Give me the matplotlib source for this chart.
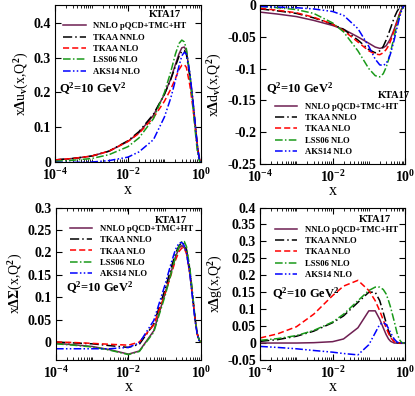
import matplotlib
matplotlib.use('Agg')
import matplotlib.pyplot as plt
import numpy as np

plt.rcParams['font.family'] = ['Liberation Serif', 'DejaVu Serif']
plt.rcParams['font.weight'] = 'bold'
plt.rcParams['mathtext.fontset'] = 'custom'
plt.rcParams['mathtext.rm'] = 'Liberation Serif:bold'
plt.rcParams['mathtext.it'] = 'Liberation Serif:bold'
plt.rcParams['mathtext.bf'] = 'Liberation Serif:bold'

# common x grid
x = [1e-4, 3e-4, 1e-3, 3e-3, 1e-2, 2e-2, 5e-2, 0.1, 0.15, 0.2, 0.25, 0.3,
     0.35, 0.4, 0.5, 0.6, 0.7, 0.8, 0.9, 1.0]

labels = ['NNLO pQCD+TMC+HT', 'TKAA NNLO', 'TKAA NLO', 'LSS06 NLO', 'AKS14 NLO']

# x delta u_v
uv_kta17 = [0.007, 0.011, 0.018, 0.032, 0.060, 0.085, 0.135, 0.195, 0.24, 0.28, 0.31, 0.328,
            0.33, 0.32, 0.25, 0.18, 0.11, 0.05, 0.012, 0.0]
uv_tkaa_nnlo = [0.007, 0.011, 0.018, 0.032, 0.062, 0.088, 0.138, 0.195, 0.238, 0.275, 0.303, 0.318,
                0.32, 0.31, 0.245, 0.175, 0.105, 0.047, 0.011, 0.0]
uv_tkaa_nlo = [0.007, 0.011, 0.018, 0.032, 0.060, 0.083, 0.128, 0.175, 0.21, 0.24, 0.265, 0.278,
               0.28, 0.272, 0.22, 0.16, 0.1, 0.043, 0.01, 0.0]
uv_lss06 = [0.003, 0.006, 0.011, 0.022, 0.045, 0.07, 0.125, 0.2, 0.26, 0.31, 0.34, 0.35,
            0.345, 0.325, 0.25, 0.165, 0.09, 0.032, 0.006, 0.0]
uv_aks14 = [0.0, 0.0, 0.001, 0.005, 0.015, 0.03, 0.065, 0.13, 0.185, 0.235, 0.275, 0.305,
            0.315, 0.31, 0.255, 0.18, 0.11, 0.047, 0.011, 0.0]

# x delta d_v
dv_kta17 = [-0.011, -0.014, -0.018, -0.024, -0.032, -0.038, -0.05, -0.06, -0.066, -0.068, -0.067,
            -0.064, -0.058, -0.052, -0.038, -0.025, -0.014, -0.006, -0.001, 0.0]
dv_tkaa_nnlo = [-0.006, -0.009, -0.013, -0.02, -0.03, -0.038, -0.055, -0.07, -0.075, -0.072, -0.065,
                -0.055, -0.045, -0.036, -0.02, -0.01, -0.004, -0.001, 0.0, 0.0]
dv_tkaa_nlo = [-0.005, -0.008, -0.012, -0.019, -0.03, -0.04, -0.058, -0.072, -0.077, -0.078, -0.075,
               -0.07, -0.064, -0.056, -0.04, -0.027, -0.015, -0.007, -0.002, 0.0]
dv_lss06 = [-0.002, -0.004, -0.007, -0.013, -0.028, -0.042, -0.072, -0.1, -0.111, -0.113, -0.108,
            -0.098, -0.086, -0.073, -0.05, -0.03, -0.016, -0.007, -0.002, 0.0]
dv_aks14 = [-0.002, -0.003, -0.004, -0.006, -0.01, -0.016, -0.037, -0.065, -0.085, -0.094, -0.095,
            -0.092, -0.085, -0.076, -0.055, -0.036, -0.02, -0.009, -0.002, 0.0]

# x delta Sigma
sg_kta17 = [-0.003, -0.006, -0.01, -0.017, -0.027, -0.02, 0.025, 0.105, 0.155, 0.19, 0.21, 0.215,
            0.21, 0.2, 0.15, 0.095, 0.048, 0.017, 0.004, 0.0]
sg_tkaa_nnlo = [0.0, -0.002, -0.004, -0.008, -0.012, -0.005, 0.04, 0.115, 0.165, 0.198, 0.215, 0.222,
                0.218, 0.207, 0.16, 0.1, 0.05, 0.018, 0.004, 0.0]
sg_tkaa_nlo = [0.0, -0.001, -0.003, -0.005, -0.007, 0.0, 0.038, 0.105, 0.15, 0.183, 0.202, 0.21,
               0.208, 0.198, 0.155, 0.097, 0.048, 0.017, 0.004, 0.0]
sg_lss06 = [-0.004, -0.007, -0.011, -0.018, -0.028, -0.021, 0.022, 0.1, 0.152, 0.19, 0.213, 0.225,
            0.224, 0.213, 0.163, 0.102, 0.05, 0.017, 0.004, 0.0]
sg_aks14 = [-0.015, -0.015, -0.015, -0.015, -0.012, -0.002, 0.048, 0.125, 0.175, 0.207, 0.221, 0.222,
            0.214, 0.2, 0.15, 0.092, 0.045, 0.015, 0.003, 0.0]

# x delta g
g_kta17 = [0.0, 0.0, 0.0, 0.001, 0.004, 0.012, 0.045, 0.095, 0.095, 0.07, 0.045, 0.025,
           0.012, 0.005, 0.0, 0.0, 0.0, 0.0, 0.0, 0.0]
g_tkaa_nnlo = [0.005, 0.01, 0.02, 0.035, 0.06, 0.08, 0.12, 0.15, 0.15, 0.125, 0.09, 0.06,
               0.035, 0.02, 0.005, 0.001, 0.0, 0.0, 0.0, 0.0]
g_tkaa_nlo = [0.015, 0.027, 0.048, 0.085, 0.14, 0.168, 0.185, 0.155, 0.125, 0.095, 0.068, 0.045,
              0.028, 0.016, 0.004, 0.001, 0.0, 0.0, 0.0, 0.0]
g_lss06 = [0.008, 0.013, 0.022, 0.037, 0.062, 0.085, 0.125, 0.155, 0.165, 0.165, 0.158, 0.145,
           0.125, 0.105, 0.065, 0.03, 0.01, 0.002, 0.0, 0.0]
g_aks14 = [-0.01, -0.013, -0.017, -0.022, -0.027, -0.031, -0.035, -0.005, 0.03, 0.055, 0.06, 0.055,
           0.043, 0.03, 0.012, 0.003, 0.0, 0.0, 0.0, 0.0]

# styles: KTA17, TKAA NNLO, TKAA NLO, LSS06, AKS14
colors = ['#6e1f52', 'black', 'red', '#1a9a1a', 'blue']
styles = ['-', (0, (6, 2, 1, 2)), (0, (4, 2)), (0, (5, 1.5, 1, 1.5)), (0, (5, 1.5, 1, 1.5, 1, 1.5))]

panels = [
    dict(rect=[0.133, 0.590, 0.351, 0.397], data=[uv_kta17, uv_tkaa_nnlo, uv_tkaa_nlo, uv_lss06, uv_aks14],
         ylim=(0, 0.45), yticks=[0, 0.1, 0.2, 0.3, 0.4], yticklabels=['0', '0.1', '0.2', '0.3', '0.4'],
         ylabel='x$\\Delta$u$_v$(x,Q$^2$)', kta=(0.75, 0.94), leg=(0.055, 0.89), q2=(0.26, 0.465)),
    dict(rect=[0.627, 0.586, 0.349, 0.401], data=[dv_kta17, dv_tkaa_nnlo, dv_tkaa_nlo, dv_lss06, dv_aks14],
         ylim=(-0.25, 0), yticks=[0, -0.05, -0.1, -0.15, -0.2, -0.25],
         yticklabels=['0', '-0.05', '-0.1', '-0.15', '-0.2', '-0.25'],
         ylabel='x$\\Delta$d$_v$(x,Q$^2$)', kta=(0.92, 0.434), leg=(0.10, 0.385), q2=(0.276, 0.47)),
    dict(rect=[0.135, 0.091, 0.349, 0.385], data=[sg_kta17, sg_tkaa_nnlo, sg_tkaa_nlo, sg_lss06, sg_aks14],
         ylim=(-0.04, 0.3), yticks=[0, 0.05, 0.1, 0.15, 0.2, 0.25, 0.3],
         yticklabels=['0', '0.05', '0.1', '0.15', '0.2', '0.25', '0.3'],
         ylabel='x$\\Delta\\Sigma$(x,Q$^2$)', kta=(0.79, 0.915), leg=(0.097, 0.886), q2=(0.30, 0.47)),
    dict(rect=[0.627, 0.091, 0.349, 0.385], data=[g_kta17, g_tkaa_nnlo, g_tkaa_nlo, g_lss06, g_aks14],
         ylim=(-0.05, 0.4), yticks=[-0.05, 0, 0.05, 0.1, 0.15, 0.2, 0.25, 0.3, 0.35, 0.4],
         yticklabels=['-0.05', '0', '0.05', '0.1', '0.15', '0.2', '0.25', '0.3', '0.35', '0.4'],
         ylabel='x$\\Delta$g(x,Q$^2$)', kta=(0.79, 0.92), leg=(0.10, 0.88), q2=(0.317, 0.435)),
]

fig = plt.figure(figsize=(4.15, 3.96), dpi=100)

for p in panels:
    ax = fig.add_axes(p['rect'])
    for y, c, ls, lab in zip(p['data'], colors, styles, labels):
        ax.plot(x, y, color=c, linestyle=ls, linewidth=1.1, label=lab)
    ax.set_xscale('log')
    ax.set_xlim(1e-4, 1)
    ax.set_ylim(*p['ylim'])
    ax.set_xticks([1e-4, 1e-2, 1])
    ax.set_xticklabels(['$10^{-4}$', '$10^{-2}$', '$10^{0}$'])
    ax.xaxis.set_minor_locator(matplotlib.ticker.LogLocator(base=10, subs=np.arange(1, 10), numticks=20))
    ax.xaxis.set_minor_formatter(matplotlib.ticker.NullFormatter())
    ax.set_yticks(p['yticks'])
    ax.set_yticklabels(p['yticklabels'])
    ax.tick_params(which='both', direction='in', top=True, right=True, labelsize=10)
    ax.tick_params(axis='y', pad=3)
    ax.tick_params(axis='x', pad=3.5)
    ax.tick_params(which='major', length=4)
    ax.tick_params(which='minor', length=2)
    ax.set_xlabel('x', fontsize=11.5, labelpad=-1)
    ax.set_ylabel(p['ylabel'], fontsize=10, labelpad=2)
    ax.text(p['kta'][0], p['kta'][1], 'KTA17', transform=ax.transAxes, fontsize=7.5,
            ha='center', va='center')
    ax.text(p['q2'][0], p['q2'][1], 'Q$^2$=10 GeV$^2$', transform=ax.transAxes, fontsize=9,
            ha='center', va='center')
    ax.legend(loc='upper left', bbox_to_anchor=p['leg'], frameon=False, fontsize=6.2,
              handlelength=2.6, handletextpad=0.9, labelspacing=0.38, borderpad=0, borderaxespad=0)

fig.savefig('out.png', dpi=100)
